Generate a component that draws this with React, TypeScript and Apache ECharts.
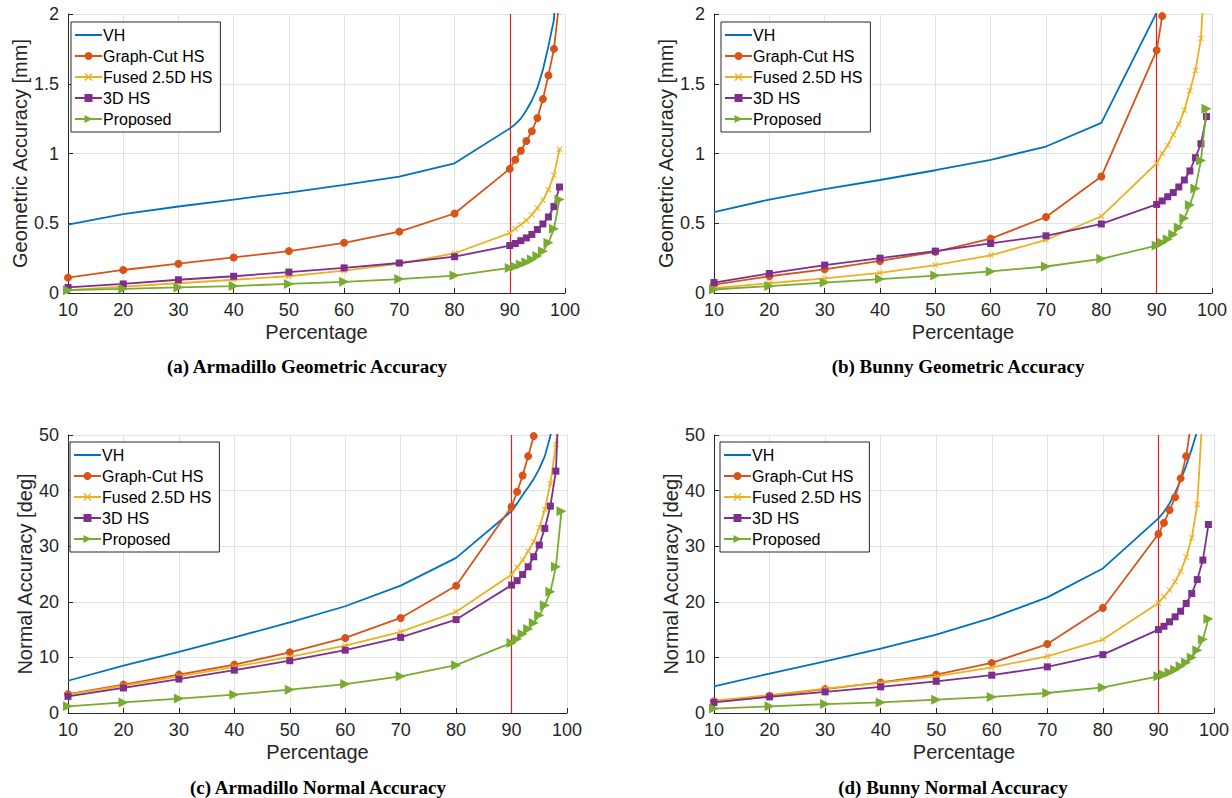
import React, { useEffect, useRef } from 'react';
import * as echarts from 'echarts';

// Percentages (x values) shared by all curves
const PCT = [10, 20, 30, 40, 50, 60, 70, 80, 90, 91, 92, 93, 94, 95, 96, 97, 98, 99];
const NAMES = ['VH', 'Graph-Cut HS', 'Fused 2.5D HS', '3D HS', 'Proposed'];
const COLORS = ['#0072BD', '#D95319', '#EDB120', '#7E2F8E', '#77AC30'];

// (a) Armadillo geometric accuracy [mm]
const ARM_GEO_VH = [0.49, 0.565, 0.62, 0.67, 0.72, 0.775, 0.835, 0.93, 1.18, 1.21, 1.25, 1.31, 1.38, 1.47, 1.6, 1.77, 1.96, 2.6];
const ARM_GEO_GC = [0.11, 0.165, 0.21, 0.255, 0.3, 0.36, 0.44, 0.57, 0.89, 0.955, 1.02, 1.09, 1.16, 1.255, 1.39, 1.56, 1.75, 2.1];
const ARM_GEO_FU = [0.02, 0.045, 0.07, 0.095, 0.12, 0.16, 0.21, 0.285, 0.43, 0.46, 0.49, 0.52, 0.56, 0.61, 0.665, 0.74, 0.845, 1.03];
const ARM_GEO_3D = [0.04, 0.065, 0.095, 0.12, 0.15, 0.18, 0.215, 0.26, 0.34, 0.355, 0.375, 0.395, 0.42, 0.455, 0.495, 0.545, 0.62, 0.76];
const ARM_GEO_PR = [0.02, 0.03, 0.04, 0.05, 0.065, 0.08, 0.1, 0.125, 0.18, 0.19, 0.205, 0.22, 0.24, 0.265, 0.3, 0.36, 0.46, 0.67];

// (b) Bunny geometric accuracy [mm]
const BUN_GEO_VH = [0.58, 0.67, 0.745, 0.81, 0.88, 0.955, 1.05, 1.22, 2.01, 2.7];
const BUN_GEO_GC = [0.06, 0.12, 0.17, 0.23, 0.295, 0.39, 0.545, 0.835, 1.74, 1.985, 2.4];
const BUN_GEO_FU = [0.035, 0.07, 0.105, 0.145, 0.2, 0.27, 0.38, 0.55, 0.93, 1.0, 1.06, 1.135, 1.21, 1.31, 1.45, 1.595, 1.825, 2.5];
const BUN_GEO_3D = [0.075, 0.14, 0.2, 0.25, 0.3, 0.355, 0.41, 0.495, 0.635, 0.66, 0.69, 0.72, 0.76, 0.81, 0.875, 0.97, 1.07, 1.265];
const BUN_GEO_PR = [0.025, 0.05, 0.075, 0.1, 0.125, 0.155, 0.19, 0.245, 0.34, 0.36, 0.385, 0.42, 0.47, 0.535, 0.63, 0.75, 0.95, 1.32];

// (c) Armadillo normal accuracy [deg]
const ARM_NOR_VH = [5.8, 8.5, 11.0, 13.6, 16.3, 19.2, 22.9, 27.9, 36.3, 37.7, 39.2, 40.6, 42.1, 43.9, 46.2, 49.8, 56];
const ARM_NOR_GC = [3.4, 5.1, 6.9, 8.7, 10.9, 13.5, 17.1, 22.9, 37.1, 39.8, 42.7, 46.2, 49.8, 54];
const ARM_NOR_FU = [3.3, 4.9, 6.6, 8.3, 10.1, 12.1, 14.6, 18.2, 24.9, 26.2, 27.5, 29.1, 30.8, 33.3, 36.6, 41.3, 48.3, 58];
const ARM_NOR_3D = [3.0, 4.5, 6.1, 7.7, 9.4, 11.3, 13.6, 16.8, 23.0, 23.8, 24.9, 26.3, 28.1, 30.2, 33.2, 37.2, 43.5, 68];
const ARM_NOR_PR = [1.2, 1.9, 2.6, 3.3, 4.2, 5.2, 6.6, 8.6, 12.6, 13.3, 14.2, 15.1, 16.2, 17.6, 19.4, 21.8, 26.3, 36.3];

// (d) Bunny normal accuracy [deg]
const BUN_NOR_VH = [4.8, 7.1, 9.3, 11.6, 14.1, 17.1, 20.8, 26.0, 35.0, 36.2, 37.7, 39.6, 41.9, 44.5, 47.5, 50.8];
const BUN_NOR_GC = [2.1, 3.1, 4.3, 5.5, 6.9, 9.0, 12.4, 18.9, 32.2, 34.2, 36.5, 38.8, 42.2, 46.2, 53];
const BUN_NOR_FU = [2.2, 3.2, 4.4, 5.4, 6.6, 8.2, 10.2, 13.2, 19.8, 20.9, 22.1, 23.6, 25.5, 28.0, 31.5, 37.5, 55];
const BUN_NOR_3D = [1.9, 2.9, 3.8, 4.7, 5.7, 6.8, 8.3, 10.5, 15.0, 15.6, 16.4, 17.3, 18.3, 19.7, 21.5, 24.0, 27.5, 33.9];
const BUN_NOR_PR = [0.8, 1.2, 1.6, 1.9, 2.4, 2.9, 3.6, 4.6, 6.6, 6.9, 7.3, 7.8, 8.4, 9.1, 10.0, 11.3, 13.2, 16.9];

const X_TICKS_MIN = 10;
const X_TICKS_MAX = 100;
const THRESHOLD = 90;

const CAPTIONS = [
  '(a) Armadillo Geometric Accuracy',
  '(b) Bunny Geometric Accuracy',
  '(c) Armadillo Normal Accuracy',
  '(d) Bunny Normal Accuracy',
];
const Y_NAMES = ['Geometric Accuracy [mm]', 'Geometric Accuracy [mm]', 'Normal Accuracy [deg]', 'Normal Accuracy [deg]'];
const Y_MAX = [2, 2, 50, 50];
const Y_INTERVAL = [0.5, 0.5, 10, 10];

const PANEL_DATA = [
  [ARM_GEO_VH, ARM_GEO_GC, ARM_GEO_FU, ARM_GEO_3D, ARM_GEO_PR],
  [BUN_GEO_VH, BUN_GEO_GC, BUN_GEO_FU, BUN_GEO_3D, BUN_GEO_PR],
  [ARM_NOR_VH, ARM_NOR_GC, ARM_NOR_FU, ARM_NOR_3D, ARM_NOR_PR],
  [BUN_NOR_VH, BUN_NOR_GC, BUN_NOR_FU, BUN_NOR_3D, BUN_NOR_PR],
];

const GRIDS = [
  { left: 68, top: 14, width: 497, height: 279 },
  { left: 714, top: 14, width: 498, height: 279 },
  { left: 68, top: 435, width: 499, height: 278 },
  { left: 714, top: 435, width: 500, height: 278 },
];
const Y_NAME_GAP = [38, 38, 31, 31];
const LEGEND_POS = [
  { left: 71, top: 22 },
  { left: 721, top: 22 },
  { left: 70, top: 442 },
  { left: 720, top: 442 },
];
const CAPTION_POS = [
  { x: 307, y: 366 },
  { x: 958, y: 366 },
  { x: 318, y: 787 },
  { x: 953, y: 787 },
];

const SANS = '"Liberation Sans", Arial, Helvetica, sans-serif';
const SERIF = '"Liberation Serif", "Times New Roman", serif';
const AXIS_COLOR = '#262626';
const GRID_COLOR = '#e2e2e2';
const RED = '#e3211c';

const X_MARK = 'path://M0,1.2 L1.2,0 L5,3.8 L8.8,0 L10,1.2 L6.2,5 L10,8.8 L8.8,10 L5,6.2 L1.2,10 L0,8.8 L3.8,5 Z';
const SYMBOLS = ['none', 'circle', X_MARK, 'rect', 'triangle'];
const SYMBOL_SIZES = [0, 8, 6, 7, 10];
const SYMBOL_ROT = [0, 0, 0, 0, -90];

export default function App() {
  const ref = useRef<HTMLDivElement>(null);

  useEffect(() => {
    document.body.style.margin = '0';
    if (!ref.current) return;
    const chart = echarts.init(ref.current, undefined, { renderer: 'svg' });

    const grid: any[] = [];
    const xAxis: any[] = [];
    const yAxis: any[] = [];
    const legend: any[] = [];
    const series: any[] = [];
    const graphic: any[] = [];

    const legendData = NAMES.map((n, i) =>
      i === 0 ? { name: n, itemStyle: { opacity: 0, color: 'rgba(0,0,0,0)', borderWidth: 0 } } : { name: n }
    );

    for (let p = 0; p < 4; p++) {
      grid.push({ ...GRIDS[p], containLabel: false });
      xAxis.push({
        type: 'value',
        gridIndex: p,
        min: X_TICKS_MIN,
        max: X_TICKS_MAX,
        interval: 10,
        name: 'Percentage',
        nameLocation: 'middle',
        nameGap: 29,
        nameTextStyle: { fontSize: 20, color: AXIS_COLOR, fontFamily: SANS },
        axisLine: { show: true, onZero: false, lineStyle: { color: AXIS_COLOR, width: 1 } },
        axisTick: { show: true, inside: true, length: 5, lineStyle: { color: AXIS_COLOR } },
        axisLabel: { fontSize: 18, color: AXIS_COLOR, margin: 8, fontFamily: SANS },
        splitLine: { show: true, lineStyle: { color: GRID_COLOR, width: 1 } },
      });
      yAxis.push({
        type: 'value',
        gridIndex: p,
        min: 0,
        max: Y_MAX[p],
        interval: Y_INTERVAL[p],
        name: Y_NAMES[p],
        nameLocation: 'middle',
        nameGap: Y_NAME_GAP[p],
        nameTextStyle: { fontSize: 20, color: AXIS_COLOR, fontFamily: SANS },
        axisLine: { show: true, onZero: false, lineStyle: { color: AXIS_COLOR, width: 1 } },
        axisTick: { show: true, inside: true, length: 5, lineStyle: { color: AXIS_COLOR } },
        axisLabel: { fontSize: 18, color: AXIS_COLOR, margin: 9, fontFamily: SANS },
        splitLine: { show: true, lineStyle: { color: GRID_COLOR, width: 1 } },
      });
      legend.push({
        orient: 'vertical',
        left: LEGEND_POS[p].left,
        top: LEGEND_POS[p].top,
        data: legendData,
        itemWidth: 27,
        itemHeight: 10,
        itemGap: 5,
        padding: [5, 8, 5, 3],
        backgroundColor: '#ffffff',
        borderColor: '#262626',
        borderWidth: 1,
        borderRadius: 0,
        selectedMode: false,
        textStyle: { fontSize: 16, color: '#000', fontFamily: SANS, padding: [0, 0, 0, -4] },
      });
      const values = PANEL_DATA[p];
      for (let s = 0; s < 5; s++) {
        const arr = values[s];
        const data = arr.map((v, i) => [PCT[i], v]);
        const ser: any = {
          type: 'line',
          name: NAMES[s],
          xAxisIndex: p,
          yAxisIndex: p,
          data,
          color: COLORS[s],
          lineStyle: { color: COLORS[s], width: 1.8 },
          itemStyle: { color: COLORS[s] },
          symbol: SYMBOLS[s],
          showSymbol: s !== 0,
          symbolSize: SYMBOL_SIZES[s],
          symbolRotate: SYMBOL_ROT[s],
          clip: true,
          z: 3 + s,
        };
        if (s === 0) {
          ser.markLine = {
            silent: true,
            symbol: 'none',
            label: { show: false },
            lineStyle: { color: RED, type: 'solid', width: 1.2 },
            data: [{ xAxis: THRESHOLD }],
            z: 2,
          };
        }
        series.push(ser);
      }
      graphic.push({
        type: 'text',
        x: CAPTION_POS[p].x,
        y: CAPTION_POS[p].y,
        style: {
          text: CAPTIONS[p],
          font: 'bold 19px ' + SERIF,
          fill: '#000',
          textAlign: 'center',
          textVerticalAlign: 'middle',
        },
      });
    }

    chart.setOption({
      animation: false,
      backgroundColor: '#ffffff',
      grid,
      xAxis,
      yAxis,
      legend,
      series,
      graphic,
    });

    return () => {
      chart.dispose();
    };
  }, []);

  return <div ref={ref} style={{ width: 1232, height: 798 }} />;
}
